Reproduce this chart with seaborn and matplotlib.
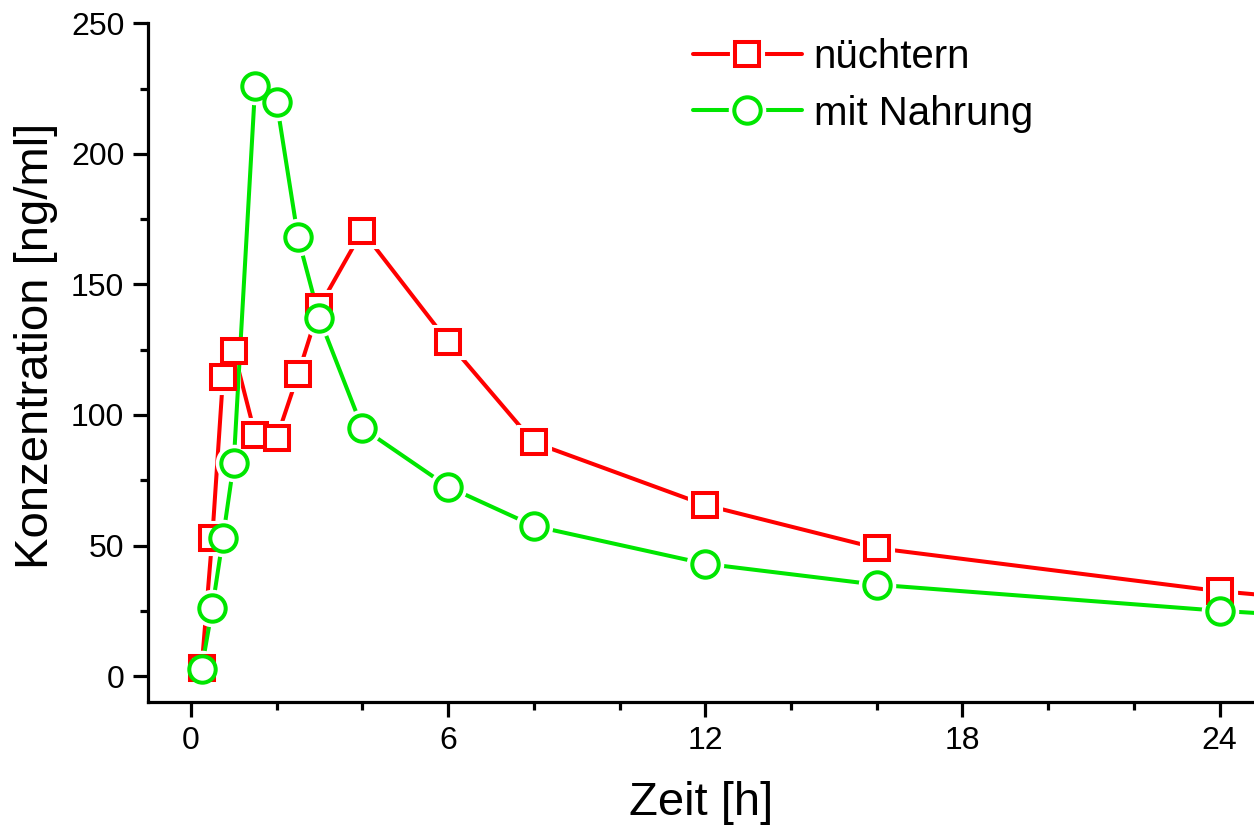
import matplotlib
matplotlib.use("Agg")
import matplotlib.pyplot as plt
import seaborn as sns
from matplotlib.lines import Line2D
from matplotlib.legend_handler import HandlerTuple
from matplotlib.ticker import MultipleLocator

# sampling times [h]
zeit = [0.25, 0.5, 0.75, 1, 1.5, 2, 2.5, 3, 4, 6, 8, 12, 16, 24, 36]

# concentration [ng/ml]
nuechtern = [3, 53, 114.5, 124.5, 92.5, 91, 115.5, 141.5, 170.5, 128, 89.5, 65.5, 49, 32.5, 15]
mit_nahrung = [2.7, 26, 53, 81.5, 226, 220, 168, 137, 95, 72.5, 57.5, 43, 35, 25, 13]

labels = ["nüchtern", "mit Nahrung"]
colors = ["#ff0000", "#00e600"]
markers = ["s", "o"]
msizes = [17, 19]

sns.set_style("ticks")
plt.rcParams["font.family"] = ["Liberation Sans", "DejaVu Sans"]
plt.rcParams["text.color"] = "black"
plt.rcParams["axes.labelcolor"] = "black"

fig = plt.figure(figsize=(12.54, 8.31), dpi=100)
ax = fig.add_axes([0.118, 0.155, 0.882, 0.817])

keep = [j for j, t in enumerate(zeit) if t <= 24.8]
lw = 2.9

handles = []
for i, vals in enumerate([nuechtern, mit_nahrung]):
    z = 2 + i * 2
    ms = msizes[i]
    sns.lineplot(x=zeit, y=vals, ax=ax, color=colors[i], linewidth=lw, zorder=z,
                 estimator=None, sort=False)
    # white halo so the line stops short of the marker
    sns.lineplot(x=zeit, y=vals, ax=ax, color="white", linestyle="", marker=markers[i],
                 markersize=ms, markeredgewidth=8, markeredgecolor="white",
                 markerfacecolor="white", zorder=z + 1, estimator=None, sort=False,
                 clip_on=False, markevery=keep)
    # markers of both series sit above all lines
    sns.lineplot(x=zeit, y=vals, ax=ax, color=colors[i], linestyle="", marker=markers[i],
                 markersize=ms, markeredgewidth=lw, markeredgecolor=colors[i],
                 markerfacecolor="white", zorder=10 + i, estimator=None, sort=False,
                 clip_on=False, markevery=keep)
    h_line = Line2D([], [], color=colors[i], linewidth=lw)
    h_halo = Line2D([], [], linestyle="", marker=markers[i], markersize=ms,
                    markeredgewidth=8, markeredgecolor="white", markerfacecolor="white")
    h_mark = Line2D([], [], linestyle="", marker=markers[i], markersize=ms,
                    markeredgewidth=lw, markeredgecolor=colors[i], markerfacecolor="white")
    handles.append((h_line, h_halo, h_mark))

ax.set_xlim(-1, 24.8)
ax.set_ylim(-10, 250)
ax.xaxis.set_major_locator(MultipleLocator(6))
ax.xaxis.set_minor_locator(MultipleLocator(2))
ax.yaxis.set_major_locator(MultipleLocator(50))
ax.yaxis.set_minor_locator(MultipleLocator(25))

sns.despine(ax=ax)
for s in ["left", "bottom"]:
    ax.spines[s].set_linewidth(2.3)
    ax.spines[s].set_color("black")
ax.tick_params(which="major", length=11, width=2.3, labelsize=23, pad=6, colors="black")
ax.tick_params(which="minor", length=6, width=2.3, colors="black")

ax.set_xlabel("Zeit [h]", fontsize=34, labelpad=18)
ax.set_ylabel("Konzentration [ng/ml]", fontsize=34)
ax.yaxis.set_label_coords(-0.081, 0.525)

leg = ax.legend(handles, labels, handler_map={tuple: HandlerTuple(ndivide=1)},
                loc="upper left", bbox_to_anchor=(0.46, 1.031), frameon=False,
                fontsize=29, handlelength=2.7, handletextpad=0.3, labelspacing=0.45)

fig.savefig("out.png", dpi=100)
